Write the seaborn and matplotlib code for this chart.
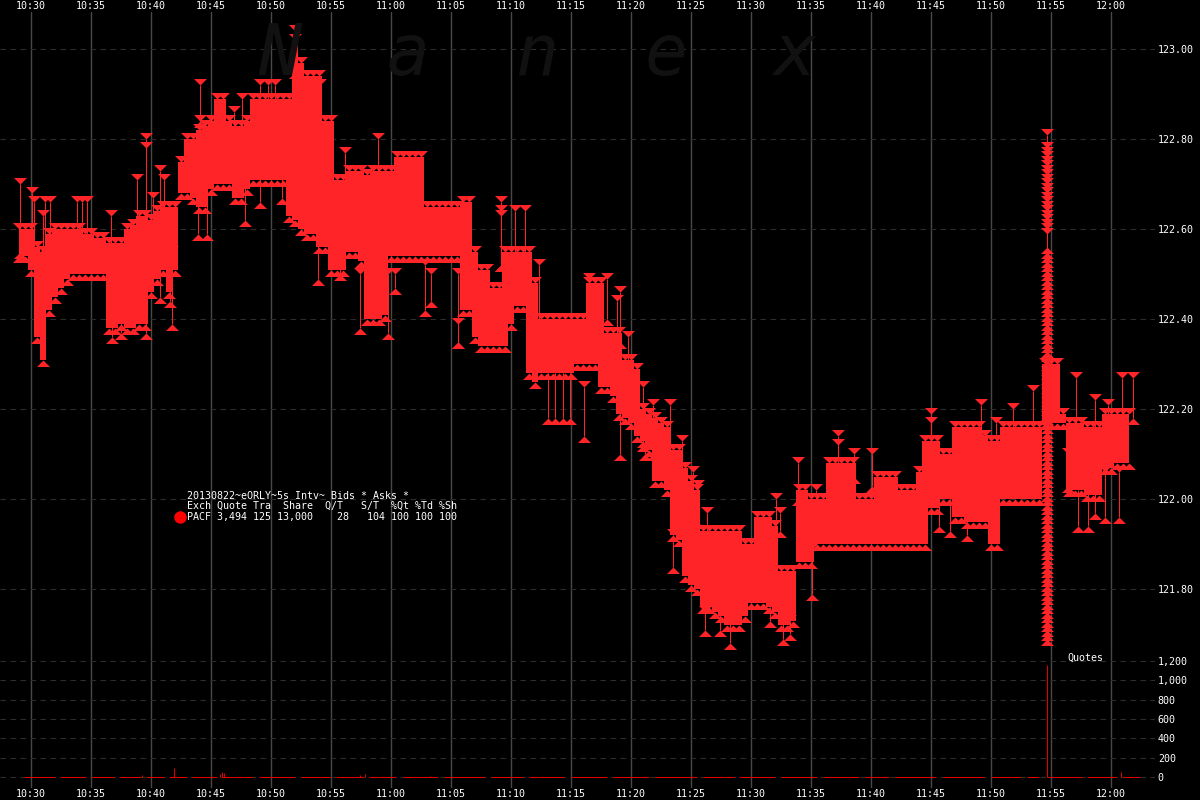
import numpy as np
import pandas as pd
import matplotlib
matplotlib.use("Agg")
import matplotlib.pyplot as plt
from matplotlib.path import Path
import seaborn as sns

# ---------- data: sampled every 30 s, starting 10:29 ----------
ask_price = [
 122.60,122.60,122.60,122.56,122.55,122.59,122.60,122.60,122.60,122.60,
 122.60,122.59,122.59,122.58,122.58,122.57,122.57,122.57,122.60,122.61,
 122.63,122.63,122.62,122.64,122.65,122.65,122.65,122.75,122.80,122.80,
 122.82,122.83,122.84,122.89,122.89,122.84,122.83,122.83,122.84,122.89,
 122.89,122.89,122.89,122.89,122.89,122.89,123.02,122.97,122.94,122.94,
 122.94,122.84,122.84,122.71,122.71,122.73,122.73,122.73,122.72,122.73,
 122.73,122.73,122.73,122.76,122.76,122.76,122.76,122.76,122.65,122.65,
 122.65,122.65,122.65,122.65,122.66,122.66,122.55,122.51,122.51,122.47,
 122.47,122.55,122.55,122.55,122.55,122.55,122.48,122.40,122.40,122.40,
 122.40,122.40,122.40,122.40,122.40,122.48,122.48,122.48,122.37,122.37,
 122.37,122.31,122.31,122.29,122.20,122.19,122.18,122.17,122.16,122.11,
 122.11,122.07,122.04,122.02,121.93,121.93,121.93,121.93,121.93,121.93,
 121.93,121.90,121.90,121.96,121.96,121.96,121.94,121.84,121.84,121.84,
 122.02,122.02,122.00,122.00,122.00,122.08,122.08,122.08,122.08,122.08,
 122.00,122.00,122.00,122.05,122.05,122.05,122.05,122.02,122.02,122.02,
 122.06,122.13,122.13,122.13,122.10,122.10,122.16,122.16,122.16,122.16,
 122.16,122.14,122.13,122.13,122.16,122.16,122.16,122.16,122.16,122.16,
 122.16,122.30,122.30,122.30,122.19,122.17,122.17,122.17,122.16,122.16,
 122.16,122.19,122.19,122.19,122.19,122.19]
bid_price = [
 122.54,122.54,122.51,122.36,122.31,122.42,122.45,122.47,122.49,122.50,
 122.50,122.50,122.50,122.50,122.50,122.38,122.38,122.39,122.38,122.38,
 122.39,122.39,122.46,122.49,122.51,122.46,122.51,122.68,122.68,122.67,
 122.65,122.65,122.69,122.70,122.70,122.70,122.67,122.67,122.69,122.71,
 122.71,122.71,122.71,122.71,122.71,122.63,122.62,122.60,122.59,122.59,
 122.56,122.56,122.51,122.51,122.51,122.55,122.55,122.53,122.40,122.40,
 122.40,122.41,122.54,122.54,122.54,122.54,122.54,122.54,122.54,122.54,
 122.54,122.54,122.54,122.54,122.42,122.42,122.36,122.34,122.34,122.34,
 122.34,122.34,122.39,122.43,122.43,122.28,122.26,122.28,122.28,122.28,
 122.28,122.28,122.28,122.30,122.30,122.30,122.30,122.25,122.25,122.23,
 122.19,122.18,122.17,122.14,122.13,122.11,122.04,122.04,122.02,121.92,
 121.91,121.83,121.81,121.80,121.76,121.76,121.75,121.74,121.72,121.72,
 121.72,121.74,121.77,121.77,121.77,121.76,121.75,121.72,121.72,121.73,
 121.86,121.86,121.86,121.90,121.90,121.90,121.90,121.90,121.90,121.90,
 121.90,121.90,121.90,121.90,121.90,121.90,121.90,121.90,121.90,121.90,
 121.90,121.90,121.98,121.98,122.00,122.00,121.96,121.96,121.95,121.95,
 121.95,121.95,121.90,121.90,122.00,122.00,122.00,122.00,122.00,122.00,
 122.00,122.17,122.17,122.17,122.17,122.02,122.02,122.02,122.01,122.01,
 122.01,122.07,122.07,122.08,122.08,122.08]

# isolated quotes that stand clear of the main band (minutes after 10:30)
spike_time = [-0.88,0.08,0.25,1.0,1.17,1.58,3.83,4.25,4.67,6.67,8.83,9.58,9.58,10.17,10.75,11.08,
              6.75,7.5,9.58,11.75,11.58,10.75,13.92,14.67,17.83,19.08,20.92,
              14.08,14.08,14.08,16.92,17.58,19.08,19.75,20.33,22.0,24.08,23.92,25.75,
              28.92,26.17,39.17,39.17,39.17,40.33,41.17,42.33,49.08,48.83,51.0,49.75,46.5,48.0,
              27.42,29.75,32.83,33.33,30.33,35.58,35.58,46.08,43.67,44.33,44.92,43.08,
              51.17,49.08,53.5,65.08,58.25,56.17,57.42,61.58,62.67,63.25,
              55.17,55.58,51.83,53.25,54.25,56.33,62.08,62.42,63.92,65.42,67.25,67.25,68.58,70.08,
              75.0,75.0,79.17,80.42,83.5,81.83,87.08,90.92,91.83,88.67,89.75,
              76.58,78.0,75.67,90.67,89.5,87.25,88.08,86.42,88.67]
spike_ask = [122.70,122.68,122.66,122.63,122.66,122.66,122.66,122.66,122.66,122.63,122.71,122.80,122.78,122.67,122.73,122.71,
             122.50,122.50,122.50,122.55,122.55,122.55,122.70,122.70,122.70,122.75,122.75,
             122.92,122.84,122.82,122.86,122.89,122.92,122.92,122.92,123.04,122.92,122.70,122.62,
             122.80,122.77,122.66,122.64,122.63,122.64,122.64,122.52,122.46,122.44,122.25,122.36,122.49,122.49,
             122.50,122.50,122.52,122.50,122.50,122.50,122.39,122.25,122.28,122.28,122.28,122.28,
             122.15,122.25,121.92,121.89,121.78,121.75,121.75,121.76,121.73,121.73,
             122.06,122.03,122.21,122.21,122.13,121.97,122.00,121.97,122.08,122.02,122.14,122.12,122.10,122.10,
             122.19,122.17,122.21,122.17,122.24,122.20,122.27,122.27,122.27,122.22,122.21,
             122.00,122.00,122.00,122.06,122.06,122.02,122.02,122.10,122.02]
spike_bid = [122.55,122.54,122.54,122.50,122.56,122.56,122.55,122.55,122.55,122.55,122.58,122.58,122.58,122.58,122.62,122.62,
             122.36,122.37,122.37,122.39,122.44,122.45,122.59,122.59,122.62,122.66,122.67,
             122.84,122.80,122.75,122.80,122.80,122.85,122.85,122.85,122.95,122.80,122.49,122.50,
             122.70,122.70,122.52,122.52,122.52,122.50,122.50,122.40,122.35,122.35,122.12,122.25,122.40,122.40,
             122.38,122.37,122.42,122.44,122.47,122.35,122.35,122.14,122.18,122.18,122.18,122.18,
             122.10,122.10,121.85,121.79,121.68,121.71,121.71,121.73,121.69,121.70,
             121.95,121.95,122.10,122.10,122.05,121.93,121.93,121.93,122.00,121.95,122.05,122.05,122.05,122.03,
             122.12,122.12,122.15,122.10,122.16,122.15,122.17,122.18,122.18,122.15,122.15,
             121.93,121.92,121.94,121.96,121.96,121.94,121.94,122.03,121.97]

# the one burst of quotes just before 11:55
burst_time = 84.67
burst_ask = [122.81,122.78,122.77,122.76,122.75,122.74,122.73,122.72,122.71,122.70,
             122.69,122.68,122.67,122.66,122.65,122.64,122.63,122.62,122.61,122.60,122.59]
burst_bid = [122.56,122.55,122.54,122.53,122.52,122.51,122.50,122.49,122.48,122.47,
             122.46,122.45,122.44,122.43,122.42,122.41,122.40,122.39,122.38,122.37,
             122.36,122.35,122.34,122.33,122.32,122.31,122.30,122.29,122.28,122.27,
             122.26,122.25,122.24,122.23,122.22,122.21,122.20,122.19,122.18,122.17,
             122.16,122.15,122.14,122.13,122.12,122.11,122.10,122.09,122.08,122.07,
             122.06,122.05,122.04,122.03,122.02,122.01,122.00,121.99,121.98,121.97,
             121.96,121.95,121.94,121.93,121.92,121.91,121.90,121.89,121.88,121.87,
             121.86,121.85,121.84,121.83,121.82,121.81,121.80,121.79,121.78,121.77,
             121.76,121.75,121.74,121.73,121.72,121.71,121.70,121.69]

# quote counts
count_time = [11.92,15.75,15.92,16.08,27.83,27.42,33.25,84.67,90.83,9.25]
count_value = [93,35,50,40,35,25,15,1158,50,20]
active_start = [-0.6,2.4,5.0,7.3,9.6,11.5,13.4,15.9,19.0,22.5,25.4,28.2,31.0,34.4,38.3,41.5,45.0,
                48.5,52.0,56.0,59.0,62.5,66.0,69.5,72.0,76.0,80.0,83.0,84.7,88.0,91.0]
active_end = [2.0,4.6,6.9,9.2,11.1,13.0,15.5,18.5,22.0,25.0,27.7,30.4,33.9,37.8,41.0,44.4,48.0,
              51.5,55.5,58.6,62.0,65.5,69.0,71.5,75.4,79.4,82.5,84.0,87.6,90.5,92.4]

tick_minutes = list(range(0, 95, 5))
tick_labels = ["10:30","10:35","10:40","10:45","10:50","10:55","11:00","11:05","11:10","11:15",
               "11:20","11:25","11:30","11:35","11:40","11:45","11:50","11:55","12:00"]
price_ticks = [121.80,122.00,122.20,122.40,122.60,122.80,123.00]
count_ticks = [0,200,400,600,800,1000,1200]

legend_lines = ["20130822~eORLY~5s Intv~ Bids * Asks *",
                "Exch Quote Tra  Share  Q/T   S/T  %Qt %Td %Sh",
                "PACF 3,494 125 13,000    28   104 100 100 100"]

# ---------- styling ----------
RED = "#FF2428"
QRED = "#E00000"
sns.set_theme(style="dark", rc={"figure.facecolor": "black", "axes.facecolor": "black",
                                "savefig.facecolor": "black"})
MONO = "DejaVu Sans Mono"
FS = 7.2
W, H = 1200, 800
fig = plt.figure(figsize=(12, 8), dpi=100)
xlim = (-31/12, (1155-31)/12)
ax = fig.add_axes([0, 1-655/H, 1155/W, (655-12)/H])
axq = fig.add_axes([0, 1-788/H, 1155/W, (788-655)/H])
for a in (ax, axq):
    a.set_xlim(*xlim)
    a.set_xticks(tick_minutes)
    for s in a.spines.values():
        s.set_visible(False)
    a.set_axisbelow(True)
    a.grid(True, axis="x", color="#484848", lw=1.0, ls="-")
    a.grid(True, axis="y", color="#2c2c2c", lw=0.8, ls=(0, (5, 4)))
    a.tick_params(length=0, colors="white", labelsize=FS)
    a.yaxis.tick_right()
ax.set_ylim(123-(655-49)/450, 123+(49-12)/450)
axq.set_ylim(-(788-777)/0.0967, (777-655)/0.0967)
ax.set_yticks(price_ticks, [f"{p:.2f}" for p in price_ticks], family=MONO)
axq.set_yticks(count_ticks, [f"{c:,}" for c in count_ticks], family=MONO)
ax.xaxis.tick_top()
ax.set_xticks(tick_minutes, tick_labels, family=MONO)
axq.set_xticks(tick_minutes, tick_labels, family=MONO)
ax.tick_params(axis="x", pad=1)
axq.tick_params(axis="x", pad=1)
ax.tick_params(axis="y", pad=2)
axq.tick_params(axis="y", pad=2)

fig.text(258/W, 1-75/H, "N  a  n  e  x", family=MONO, style="oblique", fontsize=51.5,
         color="#111111", zorder=0, va="baseline", ha="left")
ax.patch.set_alpha(0); axq.patch.set_alpha(0)

t = -1 + 0.5*np.arange(len(ask_price))
ask = np.array(ask_price); bid = np.array(bid_price)

ax.fill_between(t, bid, ask, step="mid", color=RED, lw=0, zorder=3)
spikes = ax.vlines(spike_time, spike_bid, spike_ask, color=RED, lw=0.75, zorder=3)
spikes.set_snap(True)
all_burst = burst_ask + burst_bid
burst_line = ax.vlines([burst_time], min(all_burst), max(all_burst), color=RED, lw=0.75, zorder=3)
burst_line.set_snap(True)

down = Path([(-1, 1), (1, 1), (0, 0), (-1, 1)], closed=True)
up = Path([(-1, -1), (1, -1), (0, 0), (-1, -1)], closed=True)
tops = pd.DataFrame({"t": np.r_[t, spike_time, [burst_time]*len(burst_ask)],
                     "p": np.r_[ask, spike_ask, burst_ask]})
bots = pd.DataFrame({"t": np.r_[t, spike_time, [burst_time]*len(burst_bid)],
                     "p": np.r_[bid, spike_bid, burst_bid]})
S = (13*0.72)**2
sns.scatterplot(data=tops, x="t", y="p", ax=ax, marker=down, s=S, color=RED, linewidth=0, zorder=4, clip_on=False)
sns.scatterplot(data=bots, x="t", y="p", ax=ax, marker=up, s=S, color=RED, linewidth=0, zorder=4, clip_on=False)
ax.set_xlabel(""); ax.set_ylabel("")

base = axq.hlines(np.zeros(len(active_start)), active_start, active_end, color=QRED, lw=0.75, zorder=3)
base.set_snap(True)
counts = axq.vlines(count_time, 0, count_value, color=QRED, lw=0.75, zorder=3)
counts.set_snap(True)
axq.set_xlabel(""); axq.set_ylabel("")

for line, y in zip(legend_lines, [496, 506, 517]):
    fig.text(187/W, 1-y/H, line, family=MONO, fontsize=FS, color="white", va="center", ha="left", zorder=6)
fig.text(1067/W, 1-658/H, "Quotes", family=MONO, fontsize=FS, color="white", va="center", ha="left", zorder=6)
fig.add_artist(plt.Line2D([180/W], [1-517/H], marker="o", ms=9, color="#FF0000", mew=0, transform=fig.transFigure, zorder=6))

fig.savefig("out.png", dpi=100, facecolor="black")
